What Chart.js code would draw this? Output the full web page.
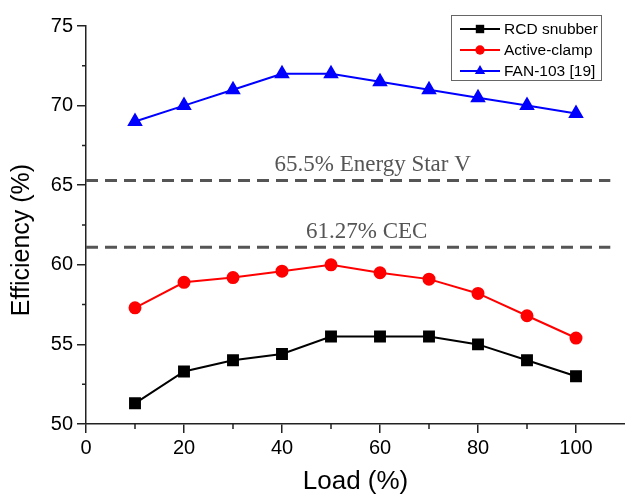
<!DOCTYPE html>
<html>
<head>
<meta charset="utf-8">
<script src="https://cdn.jsdelivr.net/npm/chart.js@4.4.1/dist/chart.umd.min.js"></script>
<style>
  html, body { margin: 0; padding: 0; background: #fff; }
  #wrap { width: 625px; height: 497px; }
</style>
</head>
<body>
<div id="wrap"><canvas id="effChart" width="625" height="497"></canvas></div>
<script>
// datos
var loads = [10, 20, 30, 40, 50, 60, 70, 80, 90, 100];
var rcdSnubber = [51.3, 53.3, 54.0, 54.4, 55.5, 55.5, 55.5, 55.0, 54.0, 53.0];
var activeClamp = [57.3, 58.9, 59.2, 59.6, 60.0, 59.5, 59.1, 58.2, 56.8, 55.4];
var fan103 = [69.0, 70.0, 71.0, 72.0, 72.0, 71.5, 71.0, 70.5, 70.0, 69.5];
var xTicks = [0, 20, 40, 60, 80, 100];
var yTicks = [50, 55, 60, 65, 70, 75];
var xMinor = [10, 30, 50, 70, 90];
var yMinor = [52.5, 57.5, 62.5, 67.5, 72.5];
var limitNames = ['65.5% Energy Star V', '61.27% CEC'];
var limitValues = [65.3, 61.1];
var limitSpan = [0, 107];
var labelAt = [58.5, 57.3];

function pts(ys) {
    return loads.map(function(x, i) { return { x: x, y: ys[i] }; });
}
function limitPts(v) {
    return limitSpan.map(function(x) { return { x: x, y: v }; });
}

var seriesStyle = { borderWidth: 2, fill: false, tension: 0 };

var datasets = [
    Object.assign({ label: 'RCD snubber', data: pts(rcdSnubber), borderColor: '#000', backgroundColor: '#000',
        pointStyle: 'rect', pointRadius: 7, pointHoverRadius: 7 }, seriesStyle),
    Object.assign({ label: 'Active-clamp', data: pts(activeClamp), borderColor: '#ff0000', backgroundColor: '#ff0000',
        pointStyle: 'circle', pointRadius: 5.5, pointHoverRadius: 5.5 }, seriesStyle),
    Object.assign({ label: 'FAN-103 [19]', data: pts(fan103), borderColor: '#0000ff', backgroundColor: '#0000ff',
        pointStyle: 'triangle', pointRadius: 7, pointHoverRadius: 7 }, seriesStyle)
];
limitValues.forEach(function(v, i) {
    datasets.push({ label: limitNames[i], data: limitPts(v), borderColor: '#555', borderWidth: 3,
        borderDash: [12, 7], pointRadius: 0, fill: false, isLimit: true });
});

// etiquetas de las lineas de limite, ticks menores, titulo Y y leyenda
var extras = {
    id: 'extras',
    afterDatasetsDraw: function(chart) {
        var c = chart.ctx, xs = chart.scales.x, ys = chart.scales.y;
        c.save();
        c.fillStyle = '#555';
        c.font = '23px "Liberation Serif", "Times New Roman", serif';
        c.textAlign = 'center';
        c.textBaseline = 'alphabetic';
        limitValues.forEach(function(v, i) {
            c.fillText(limitNames[i], xs.getPixelForValue(labelAt[i]), ys.getPixelForValue(v) - 9);
        });

        c.strokeStyle = '#222';
        c.lineWidth = 1.5;
        c.beginPath();
        yMinor.forEach(function(v) {
            var py = ys.getPixelForValue(v);
            c.moveTo(chart.chartArea.left, py);
            c.lineTo(chart.chartArea.left - 4, py);
        });
        xMinor.forEach(function(v) {
            var px = xs.getPixelForValue(v);
            c.moveTo(px, chart.chartArea.bottom);
            c.lineTo(px, chart.chartArea.bottom + 5);
        });
        c.stroke();

        // titulo del eje Y
        c.save();
        c.translate(22, 240);
        c.rotate(-Math.PI / 2);
        c.fillStyle = '#000';
        c.font = '25px "Liberation Sans", Arial, sans-serif';
        c.textAlign = 'center';
        c.textBaseline = 'middle';
        c.fillText('Efficiency (%)', 0, 0);
        c.restore();

        // leyenda
        var bx = 451, by = 15, bw = 150, bh = 65;
        c.fillStyle = '#fff';
        c.fillRect(bx, by, bw, bh);
        c.strokeStyle = '#666';
        c.lineWidth = 1;
        c.strokeRect(bx + 0.5, by + 0.5, bw, bh);
        c.font = '15.5px "Liberation Sans", Arial, sans-serif';
        c.textAlign = 'left';
        c.textBaseline = 'middle';
        var rows = [29, 50, 71];
        chart.data.datasets.forEach(function(ds, i) {
            if (ds.isLimit) return;
            var ry = rows[i];
            c.strokeStyle = ds.borderColor;
            c.lineWidth = 2;
            c.beginPath();
            c.moveTo(460, ry);
            c.lineTo(500, ry);
            c.stroke();
            c.fillStyle = ds.backgroundColor;
            Chart.helpers.drawPoint(c, { pointStyle: ds.pointStyle, radius: ds.pointRadius * 0.85, rotation: 0, borderWidth: 0 }, 480, ry);
            c.fillStyle = '#000';
            c.fillText(ds.label, 504, ry + 1);
        });
        c.restore();
    }
};

var ctx = document.getElementById('effChart').getContext('2d');
var effChart = new Chart(ctx, {
    type: 'line',
    data: { datasets: datasets },
    plugins: [extras],
    options: {
        responsive: false,
        animation: false,
        layout: { autoPadding: false, padding: { top: 26, right: 0, bottom: 0, left: 0 } },
        plugins: {
            legend: { display: false },
            tooltip: { enabled: false }
        },
        scales: {
            x: {
                type: 'linear',
                min: 0,
                max: 110,
                afterBuildTicks: function(scale) {
                    scale.ticks = xTicks.map(function(v) { return { value: v }; });
                },
                afterFit: function(scale) {
                    scale.height = 73;
                    scale.paddingLeft = 0;
                    scale.paddingRight = 0;
                },
                grid: { drawOnChartArea: false, drawTicks: true, tickLength: 9, color: '#222', lineWidth: 1.5 },
                border: { display: true, color: '#222', width: 1.5 },
                ticks: {
                    color: '#000',
                    padding: 3,
                    maxRotation: 0,
                    font: { family: '"Liberation Sans", Arial, sans-serif', size: 20 }
                },
                title: {
                    display: true,
                    text: 'Load (%)',
                    color: '#000',
                    padding: 0,
                    font: { family: '"Liberation Sans", Arial, sans-serif', size: 26 }
                }
            },
            y: {
                min: 50,
                max: 75,
                afterBuildTicks: function(scale) {
                    scale.ticks = yTicks.map(function(v) { return { value: v }; });
                },
                afterFit: function(scale) {
                    scale.width = 86;
                    scale.paddingTop = 0;
                    scale.paddingBottom = 0;
                },
                grid: { drawOnChartArea: false, drawTicks: true, tickLength: 9, color: '#222', lineWidth: 1.5 },
                border: { display: true, color: '#222', width: 1.5 },
                ticks: {
                    color: '#000',
                    padding: 4,
                    font: { family: '"Liberation Sans", Arial, sans-serif', size: 20 }
                }
            }
        }
    }
});
</script>
</body>
</html>
